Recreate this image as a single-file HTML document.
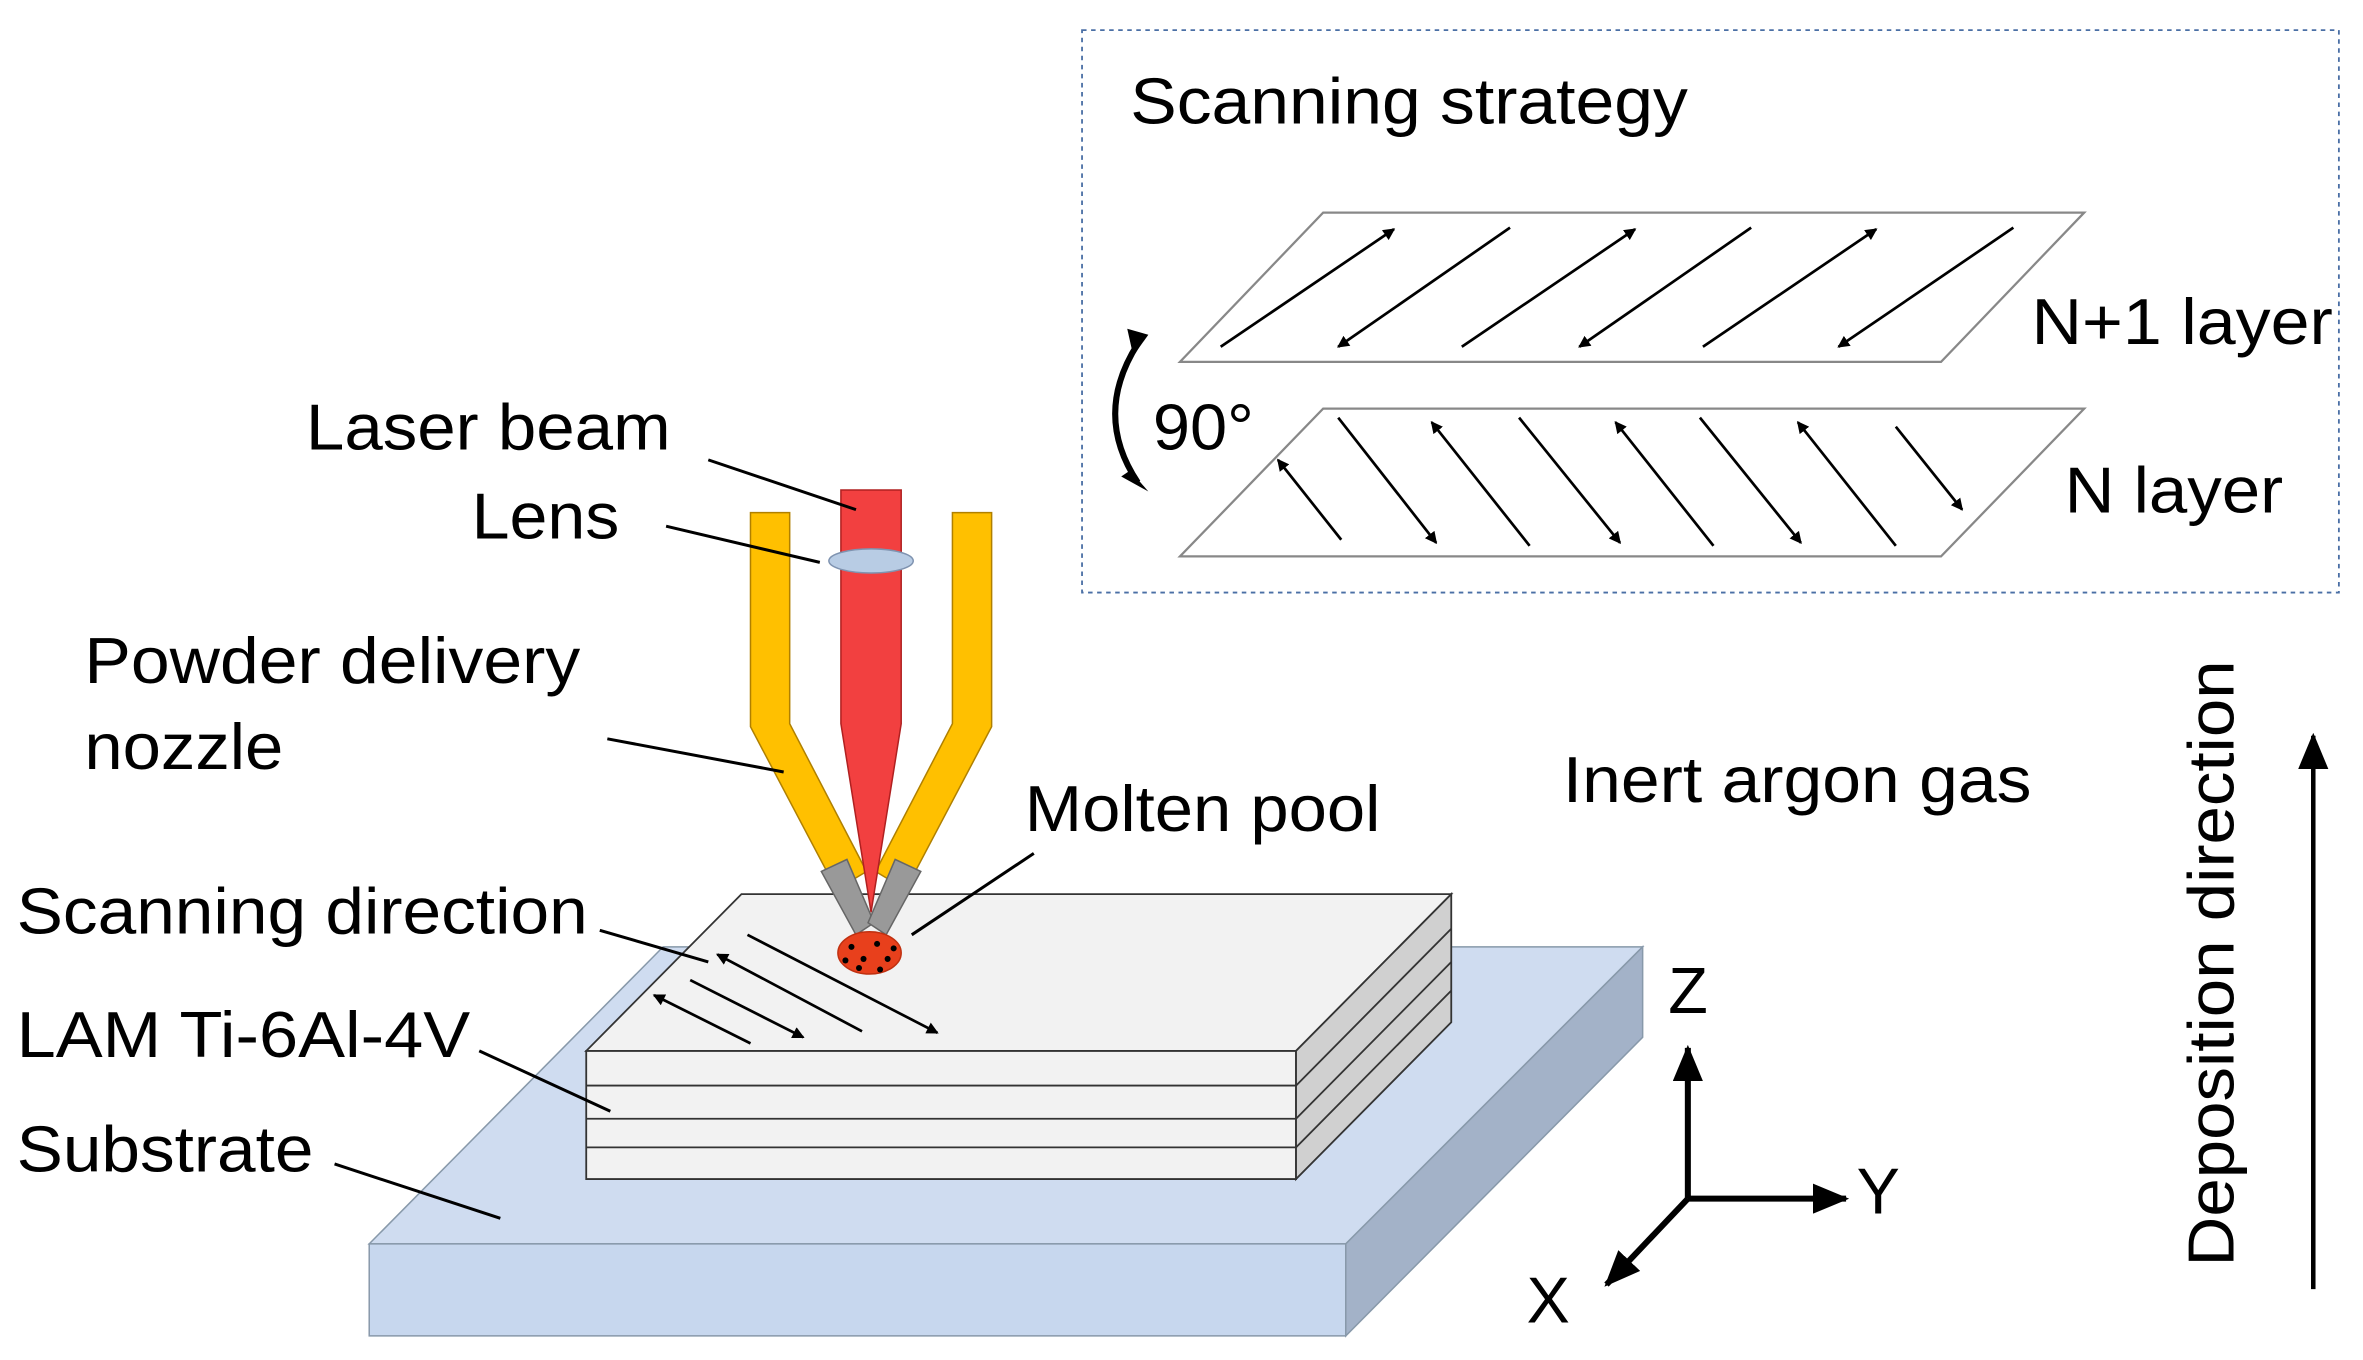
<!DOCTYPE html>
<html><head><meta charset="utf-8"><style>html,body{margin:0;padding:0;background:#fff}svg{display:block}</style></head><body>
<svg width="2363" height="1360" viewBox="0 0 1568 902" preserveAspectRatio="none" xmlns="http://www.w3.org/2000/svg" font-family="Liberation Sans, sans-serif">
<defs>
<marker id="a" markerWidth="8" markerHeight="8" refX="7" refY="4" orient="auto" markerUnits="userSpaceOnUse"><path d="M0,0 L8,4 L0,8 z" fill="#000"/></marker>
<marker id="b" markerWidth="24" markerHeight="20" refX="22" refY="10" orient="auto" markerUnits="userSpaceOnUse"><path d="M0,0 L24,10 L0,20 z" fill="#000"/></marker>
</defs>
<rect x="718" y="20" width="834" height="373" fill="none" stroke="#4a6fa5" stroke-width="1.2" stroke-dasharray="3,3"/>
<g font-size="43" lengthAdjust="spacingAndGlyphs">
<text x="750" y="82" textLength="370" lengthAdjust="spacingAndGlyphs">Scanning strategy</text>
<text x="1348" y="228" textLength="200" lengthAdjust="spacingAndGlyphs">N+1 layer</text>
<text x="1370" y="340" textLength="145" lengthAdjust="spacingAndGlyphs">N layer</text>
<text x="765" y="298" textLength="67" lengthAdjust="spacingAndGlyphs">90°</text>
</g>
<polygon points="878,141 1383,141 1288,240 783,240" fill="#fff" stroke="#888" stroke-width="1.5"/>
<polygon points="878,271 1383,271 1288,369 783,369" fill="#fff" stroke="#888" stroke-width="1.5"/>
<g stroke="#000" stroke-width="1.8">
<line x1="810" y1="230" x2="925" y2="152" marker-end="url(#a)"/>
<line x1="1002" y1="151" x2="888" y2="230" marker-end="url(#a)"/>
<line x1="970" y1="230" x2="1085" y2="152" marker-end="url(#a)"/>
<line x1="1162" y1="151" x2="1048" y2="230" marker-end="url(#a)"/>
<line x1="1130" y1="230" x2="1245" y2="152" marker-end="url(#a)"/>
<line x1="1336" y1="151" x2="1220" y2="230" marker-end="url(#a)"/>
<line x1="890" y1="358" x2="848" y2="305" marker-end="url(#a)"/>
<line x1="888" y1="277" x2="953" y2="360" marker-end="url(#a)"/>
<line x1="1015" y1="362" x2="950" y2="280" marker-end="url(#a)"/>
<line x1="1008" y1="277" x2="1075" y2="360" marker-end="url(#a)"/>
<line x1="1137" y1="362" x2="1072" y2="280" marker-end="url(#a)"/>
<line x1="1128" y1="277" x2="1195" y2="360" marker-end="url(#a)"/>
<line x1="1258" y1="362" x2="1193" y2="280" marker-end="url(#a)"/>
<line x1="1258" y1="283" x2="1302" y2="338" marker-end="url(#a)"/>
</g>
<path d="M755,228 Q725,275 755,320" fill="none" stroke="#000" stroke-width="4"/>
<path d="M748,218 L762,222 L752,236 z" fill="#000"/>
<path d="M744,316 L762,326 L750,312 z" fill="#000"/>
<polygon points="245,825 893,825 1090,628 440,628" fill="#cfdcf0" stroke="#8899aa"/>
<polygon points="245,825 893,825 893,886 245,886" fill="#c7d7ee" stroke="#8899aa"/>
<polygon points="893,825 1090,628 1090,688 893,886" fill="#a3b2c8" stroke="#8899aa"/>
<polygon points="389,697 860,697 963,593 492,593" fill="#f2f2f2" stroke="#333" stroke-width="1.2"/>
<polygon points="389,697 860,697 860,782 389,782" fill="#f2f2f2" stroke="#333" stroke-width="1.2"/>
<polygon points="860,697 963,593 963,678 860,782" fill="#d0d0d0" stroke="#333" stroke-width="1.2"/>
<g stroke="#333" stroke-width="1.2" fill="none">
<line x1="389" y1="720" x2="860" y2="720"/><line x1="389" y1="742" x2="860" y2="742"/><line x1="389" y1="761" x2="860" y2="761"/>
<line x1="860" y1="720" x2="963" y2="616"/><line x1="860" y1="742" x2="963" y2="638"/><line x1="860" y1="761" x2="963" y2="657"/>
</g>
<g stroke="#000" stroke-width="1.8">
<line x1="496" y1="620" x2="622" y2="685" marker-end="url(#a)"/>
<line x1="572" y1="684" x2="476" y2="633" marker-end="url(#a)"/>
<line x1="458" y1="650" x2="533" y2="688" marker-end="url(#a)"/>
<line x1="498" y1="692" x2="434" y2="660" marker-end="url(#a)"/>
</g>
<polygon points="498,340 524,340 524,480 575,578 555,590 498,482" fill="#ffc000" stroke="#b08000"/>
<polygon points="632,340 658,340 658,482 601,590 581,578 632,480" fill="#ffc000" stroke="#b08000"/>
<polygon points="558,325 598,325 598,480 578,605 558,480" fill="#f24040" stroke="#b02020"/>
<polygon points="545,578 562,570 580,612 568,620" fill="#999" stroke="#666"/>
<polygon points="611,578 594,570 576,612 588,620" fill="#999" stroke="#666"/>
<ellipse cx="578" cy="372" rx="28" ry="8" fill="#b8cce4" stroke="#7f93b0"/>
<ellipse cx="577" cy="632" rx="21" ry="14" fill="#e8401c" stroke="#c03010"/>
<g fill="#000"><circle cx="565" cy="628" r="2"/><circle cx="573" cy="636" r="2"/><circle cx="582" cy="626" r="2"/><circle cx="589" cy="636" r="2"/><circle cx="570" cy="642" r="2"/><circle cx="584" cy="643" r="2"/><circle cx="593" cy="629" r="2"/><circle cx="561" cy="637" r="2"/></g>
<g font-size="43">
<text x="203" y="298" textLength="242" lengthAdjust="spacingAndGlyphs">Laser beam</text>
<text x="313" y="357" textLength="98" lengthAdjust="spacingAndGlyphs">Lens</text>
<text x="56" y="453" textLength="329" lengthAdjust="spacingAndGlyphs">Powder delivery</text>
<text x="56" y="510" textLength="132" lengthAdjust="spacingAndGlyphs">nozzle</text>
<text x="680" y="551" textLength="236" lengthAdjust="spacingAndGlyphs">Molten pool</text>
<text x="11" y="619" textLength="379" lengthAdjust="spacingAndGlyphs">Scanning direction</text>
<text x="11" y="701" textLength="301" lengthAdjust="spacingAndGlyphs">LAM Ti-6Al-4V</text>
<text x="11" y="777" textLength="197" lengthAdjust="spacingAndGlyphs">Substrate</text>
<text x="1037" y="532" textLength="311" lengthAdjust="spacingAndGlyphs">Inert argon gas</text>
<text x="1107" y="672">Z</text>
<text x="1232" y="805">Y</text>
<text x="1013" y="877">X</text>
<text transform="translate(1482,840) rotate(-90)" textLength="402" lengthAdjust="spacingAndGlyphs">Deposition direction</text>
</g>
<g stroke="#000" stroke-width="2" fill="none">
<line x1="470" y1="305" x2="568" y2="338"/>
<line x1="442" y1="349" x2="544" y2="373"/>
<line x1="403" y1="490" x2="520" y2="512"/>
<line x1="686" y1="566" x2="605" y2="620"/>
<line x1="398" y1="617" x2="470" y2="638"/>
<line x1="318" y1="697" x2="405" y2="737"/>
<line x1="222" y1="772" x2="332" y2="808"/>
</g>
<g stroke="#000" stroke-width="4">
<line x1="1120" y1="795" x2="1120" y2="695" marker-end="url(#b)"/>
<line x1="1120" y1="795" x2="1225" y2="795" marker-end="url(#b)"/>
<line x1="1120" y1="795" x2="1066" y2="852" marker-end="url(#b)"/>
<line x1="1535" y1="855" x2="1535" y2="488" stroke-width="3" marker-end="url(#b)"/>
</g>
</svg>
</body></html>
